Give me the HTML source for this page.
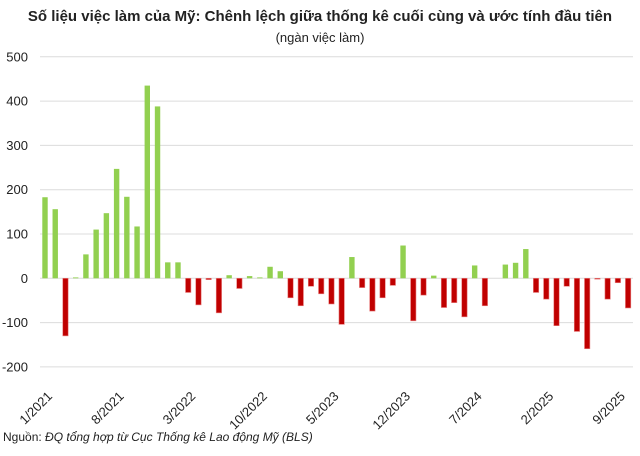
<!DOCTYPE html>
<html><head><meta charset="utf-8"><style>
body{margin:0;background:#fff;width:640px;height:451px;overflow:hidden}
</style></head><body>
<svg width="640" height="451" xmlns="http://www.w3.org/2000/svg" font-family="Liberation Sans, sans-serif">
<text x="320" y="21" text-anchor="middle" font-size="15" font-weight="bold" fill="#222">Số liệu việc làm của Mỹ: Chênh lệch giữa thống kê cuối cùng và ước tính đầu tiên</text>
<text x="320" y="42" text-anchor="middle" font-size="13" fill="#222">(ngàn việc làm)</text>
<g id="grid" stroke="#dcdcdc" stroke-width="1"></g>
<g id="ylab" font-size="13" fill="#222" text-anchor="end"></g>
<g id="bars"></g>
<g id="xlab" font-size="13" fill="#222" text-anchor="end"></g>
<text x="3" y="441" font-size="12" fill="#222">Nguồn: <tspan font-style="italic">ĐQ tổng hợp từ Cục Thống kê Lao động Mỹ (BLS)</tspan></text>
</svg>
<script>
var ns="http://www.w3.org/2000/svg";
function el(t,a,p,txt){var e=document.createElementNS(ns,t);for(var k in a)e.setAttribute(k,a[k]);if(txt!=null)e.textContent=String(txt);document.getElementById(p).appendChild(e);}
var z=278.3,s=0.443;
for(var v=-200;v<=500;v+=100){var y=z-v*s;el('line',{x1:40,x2:633,y1:y,y2:y},'grid');el('text',{x:28,y:y+4.5},'ylab',v);}
var d=[183,156,-130,2,54,110,147,247,184,117,435,388,36,36,-32,-60,-3,-78,7,-23,5,2,26,16,-44,-62,-18,-35,-58,-104,48,-21,-74,-44,-16,74,-96,-38,6,-66,-55,-87,29,-62,0,31,35,66,-32,-47,-107,-18,-120,-159,-2,-47,-10,-67];
for(var i=0;i<d.length;i++){var x=45+i*10.23,v=d[i];if(v==0)continue;var h=Math.abs(v)*s;
if(v>0)el('rect',{x:x-2.7,y:z-h,width:5.4,height:h,fill:'#92d050'},'bars');
else el('rect',{x:x-2.7,y:z,width:5.4,height:h,fill:'#c00000',stroke:'#e88080','stroke-width':0.6},'bars');}
var L=[[0,'1/2021'],[7,'8/2021'],[14,'3/2022'],[21,'10/2022'],[28,'5/2023'],[35,'12/2023'],[42,'7/2024'],[49,'2/2025'],[56,'9/2025']];
L.forEach(function(l){var x=45+l[0]*10.23+8;el('text',{x:x,y:397,transform:'rotate(-45 '+x+' 397)'},'xlab',l[1]);});
</script>
</body></html>
